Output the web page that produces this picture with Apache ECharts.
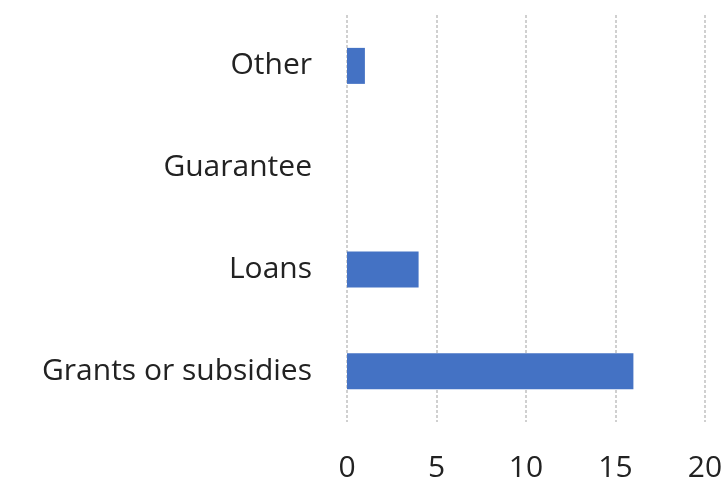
<!DOCTYPE html>
<html><head><meta charset="utf-8">
<script src="https://cdn.jsdelivr.net/npm/echarts@6/dist/echarts.min.js"></script>
<style>html,body{margin:0;padding:0;background:#fff}#c{width:727px;height:485px}</style>
</head><body><div id="c"></div>
<script>
const categories = ["Grants or subsidies", "Loans", "Guarantee", "Other"];
const values = [16, 4, 0, 1];
const xTicks = [0, 5, 10, 15, 20];

const chart = echarts.init(document.getElementById('c'));
chart.setOption({
  animation: false,
  grid: {left: 347, right: 22, top: 15, bottom: 63, containLabel: false},
  xAxis: {
    type: 'value', min: xTicks[0], max: xTicks[xTicks.length-1], interval: 5,
    axisLine: {show: false}, axisTick: {show: false},
    axisLabel: {fontFamily: 'Open Sans', fontSize: 30, color: '#222', margin: 31},
    splitLine: {show: true, lineStyle: {color: '#d0d0d0', width: 2, type: [3, 2]}}
  },
  yAxis: {
    type: 'category', data: categories,
    axisLine: {show: false}, axisTick: {show: false},
    axisLabel: {fontFamily: 'Open Sans', fontSize: 30, color: '#222', margin: 35},
    splitLine: {show: false}
  },
  series: [{
    type: 'bar', data: values, barWidth: 36,
    itemStyle: {color: '#4472C4'}
  }]
});
</script></body></html>
